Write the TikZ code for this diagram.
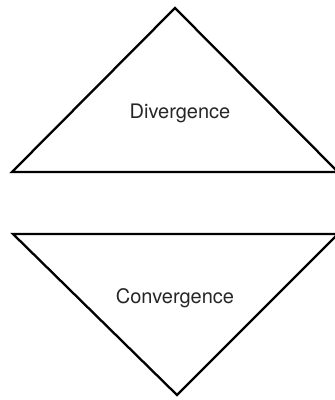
\documentclass[tikz,border=0pt]{standalone}
\usepackage{fontspec}
\setmainfont{TeX Gyre Heros}
\usetikzlibrary{positioning,calc}

\begin{document}
\begin{tikzpicture}[
    x=1pt, y=1pt,
    tri/.style={draw=black, line width=2.3pt, line join=miter},
    label/.style={font=\fontsize{20}{24}\selectfont, text=black!85}
  ]
    \useasboundingbox (0,0) rectangle (335,400);

    % top triangle
    \coordinate (divtop) at (175,392);
    \coordinate (divleft) at (12,228);
    \coordinate (divright) at (338,228);
    \draw[tri] (divtop) -- (divleft) -- (divright) -- cycle;
    \node[label] (div) at (180,287) {Divergence};

    % bottom triangle
    \coordinate (conleft) at (13,166);
    \coordinate (conright) at (338,166);
    \coordinate (conbot) at (177,5);
    \draw[tri] (conleft) -- (conright) -- (conbot) -- cycle;
    \node[label] (con) at (175,102) {Convergence};

  \end{tikzpicture}
\end{document}
